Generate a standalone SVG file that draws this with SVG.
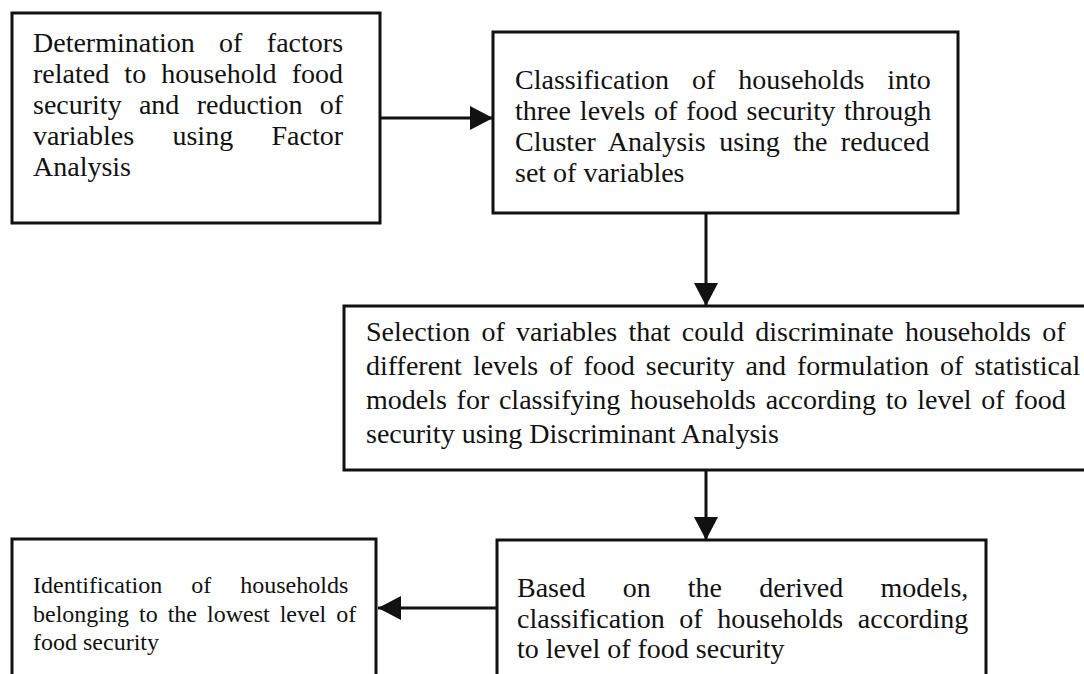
<svg xmlns="http://www.w3.org/2000/svg" width="1084" height="674" viewBox="0 0 1084 674">
  <defs>
    <style>
      .box { fill: #ffffff; stroke: #111111; stroke-width: 3; }
      .t { font-family: "Liberation Serif", "Times New Roman", serif; font-size: 28px; fill: #111111; }
      .t4 { font-family: "Liberation Serif", "Times New Roman", serif; font-size: 24px; fill: #111111; }
      .conn { stroke: #111111; stroke-width: 3; fill: none; }
    </style>
    <marker id="ah" markerUnits="userSpaceOnUse" markerWidth="24" markerHeight="24" refX="23" refY="12" orient="auto">
      <path d="M0,0 L23,12 L0,24 Z" fill="#111111"/>
    </marker>
  </defs>
  <rect width="1084" height="674" fill="#ffffff"/>

  <g id="node-factor-analysis">
    <rect class="box" x="12" y="13" width="368" height="210"/>
    <text class="t" x="33" y="52" word-spacing="17.4">Determination of factors</text>
    <text class="t" x="33" y="83" word-spacing="8.2">related to household food</text>
    <text class="t" x="33" y="114" word-spacing="10.3">security and reduction of</text>
    <text class="t" x="33" y="145" word-spacing="31.4">variables using Factor</text>
    <text class="t" x="33" y="176">Analysis</text>
  </g>

  <g id="node-cluster-analysis">
    <rect class="box" x="493" y="32" width="465" height="181"/>
    <text class="t" x="515" y="89" word-spacing="16">Classification of households into</text>
    <text class="t" x="515" y="120" word-spacing="1.9">three levels of food security through</text>
    <text class="t" x="515" y="151" word-spacing="6.4">Cluster Analysis using the reduced</text>
    <text class="t" x="515" y="182">set of variables</text>
  </g>

  <g id="node-discriminant-analysis">
    <rect class="box" x="344" y="306" width="750" height="164"/>
    <text class="t" x="366" y="341" word-spacing="4.3">Selection of variables that could discriminate households of</text>
    <text class="t" x="366" y="375" word-spacing="4">different levels of food security and formulation of statistical</text>
    <text class="t" x="366" y="409" word-spacing="2.7">models for classifying households according to level of food</text>
    <text class="t" x="366" y="443">security using Discriminant Analysis</text>
  </g>

  <g id="node-identification">
    <rect class="box" x="12" y="539" width="364" height="150"/>
    <text class="t4" x="33" y="593" word-spacing="23">Identification of households</text>
    <text class="t4" x="33" y="622" word-spacing="4">belonging to the lowest level of</text>
    <text class="t4" x="33" y="650">food security</text>
  </g>

  <g id="node-classification">
    <rect class="box" x="497" y="540" width="489" height="150"/>
    <text class="t" x="517" y="597" word-spacing="30.2">Based on the derived models,</text>
    <text class="t" x="517" y="628" word-spacing="7.6">classification of households according</text>
    <text class="t" x="517" y="658">to level of food security</text>
  </g>

  <g id="connectors">
    <line class="conn" x1="381" y1="118" x2="493" y2="118" marker-end="url(#ah)"/>
    <line class="conn" x1="706" y1="214" x2="706" y2="306" marker-end="url(#ah)"/>
    <line class="conn" x1="706" y1="471" x2="706" y2="540" marker-end="url(#ah)"/>
    <line class="conn" x1="496" y1="608" x2="378" y2="608" marker-end="url(#ah)"/>
  </g>
</svg>
